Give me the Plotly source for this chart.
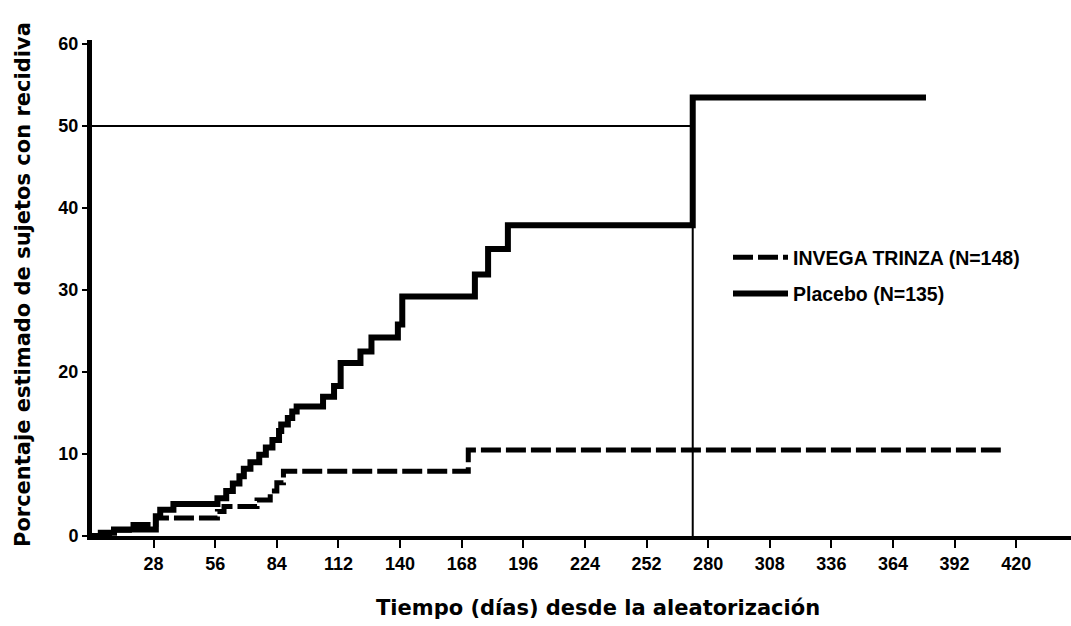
import plotly.graph_objects as go

# Kaplan-Meier style cumulative relapse (%), step curves
placebo_days = [0, 4, 10, 29, 31, 37, 57, 61, 64, 67, 69, 72, 76, 79, 82, 85, 86, 89, 91, 93,
                105, 110, 113, 122, 127, 139, 141, 174, 180, 189, 273, 379]
placebo_pct = [0, 0.4, 0.8, 2.4, 3.2, 3.9, 4.6, 5.5, 6.4, 7.3, 8.2, 9.0, 9.9, 10.8, 11.7, 12.8, 13.6, 14.4, 15.2, 15.8,
               17.0, 18.3, 21.1, 22.5, 24.2, 25.8, 29.2, 31.9, 35.0, 37.9, 53.5, 53.5]

invega_days = [0, 8, 17, 29, 57, 60, 75, 81, 84, 87, 171, 413]
invega_pct = [0, 0.7, 1.4, 2.2, 3.0, 3.6, 4.4, 5.5, 6.5, 7.9, 10.5, 10.5]

# Median reference lines (50% relapse reached by placebo)
median_pct = 50
median_day = 273

x_ticks = [28, 56, 84, 112, 140, 168, 196, 224, 252, 280, 308, 336, 364, 392, 420]
y_ticks = [0, 10, 20, 30, 40, 50, 60]

legend_invega = "INVEGA TRINZA (N=148)"
legend_placebo = "Placebo (N=135)"
x_title = "Tiempo (días) desde la aleatorización"
y_title = "Porcentaje estimado de sujetos con recidiva"

fig = go.Figure()

fig.add_trace(go.Scatter(
    x=[0, median_day, median_day], y=[median_pct, median_pct, 0],
    mode="lines", line=dict(color="black", width=2), showlegend=False, hoverinfo="skip"))

fig.add_trace(go.Scatter(
    x=invega_days, y=invega_pct, mode="lines", name=legend_invega,
    line=dict(color="black", width=5, shape="hv", dash="20px,5px"), legendgroup="a"))

fig.add_trace(go.Scatter(
    x=placebo_days, y=placebo_pct, mode="lines", name=legend_placebo,
    line=dict(color="black", width=6, shape="hv"), legendgroup="b"))

tickfont = dict(family="Liberation Sans, Arial", size=18, color="black", weight="bold")

fig.update_layout(
    width=1071, height=626,
    margin=dict(l=92, r=0, t=40, b=90),
    paper_bgcolor="white", plot_bgcolor="white",
    showlegend=True,
    legend=dict(x=(728 - 92) / 979, y=1 - (238 - 40) / 496, xanchor="left", yanchor="top",
                bgcolor="rgba(0,0,0,0)", itemwidth=55, tracegroupgap=8,
                font=dict(family="Liberation Sans, Arial", size=19.5, color="black", weight="bold")),
    xaxis=dict(range=[0, 444.9], tickvals=x_ticks, ticktext=[str(v) for v in x_ticks],
               showgrid=False, zeroline=False, showline=True, linecolor="black", linewidth=4,
               ticks="outside", ticklen=8, tickwidth=2, tickcolor="black", tickfont=tickfont),
    yaxis=dict(range=[0, 60.5], tickvals=y_ticks, showgrid=False, zeroline=False,
               showline=True, linecolor="black", linewidth=5,
               ticks="outside", ticklen=5, tickwidth=2, tickcolor="black", tickfont=tickfont),
    annotations=[
        dict(text=x_title, xref="paper", yref="paper", x=(598 - 92) / 979, y=-(608 - 536) / 496,
             xanchor="center", yanchor="middle", showarrow=False,
             font=dict(family="DejaVu Sans", size=21, color="black", weight="bold")),
        dict(text=y_title, xref="paper", yref="paper", x=-(92 - 23) / 979, y=(536 - 285) / 496,
             xanchor="center", yanchor="middle", showarrow=False, textangle=-90,
             font=dict(family="DejaVu Sans", size=21, color="black", weight="bold")),
    ],
)

fig.write_html("out.html", config={"displayModeBar": False},
               post_script="document.body.style.margin='0';")
